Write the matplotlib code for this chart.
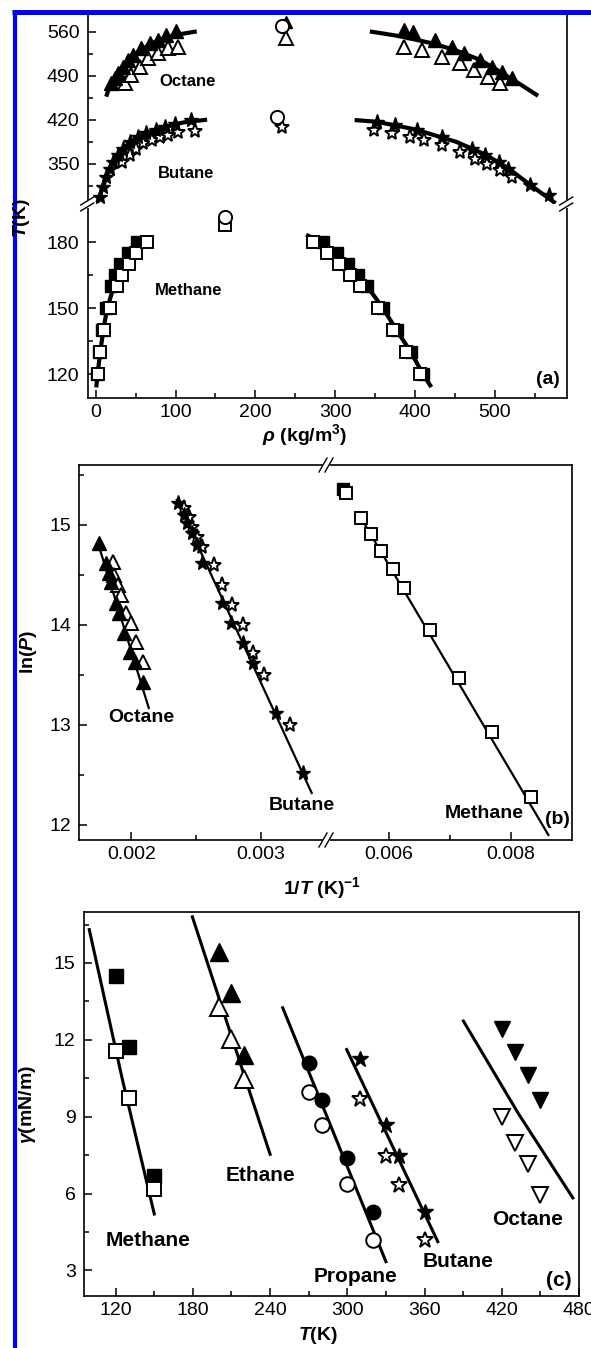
import matplotlib
matplotlib.use("Agg")
import matplotlib.pyplot as plt
from matplotlib.lines import Line2D
from matplotlib.ticker import FixedLocator, FormatStrFormatter

plt.rcParams['font.family'] = ['Liberation Sans', 'DejaVu Sans']
plt.rcParams['mathtext.fontset'] = 'custom'
plt.rcParams['mathtext.rm'] = 'Liberation Sans:bold'
plt.rcParams['mathtext.it'] = 'Liberation Sans:bold:italic'
plt.rcParams['mathtext.bf'] = 'Liberation Sans:bold'

W, H = 591, 1348

# ---------------- (a) coexistence curves: rho (kg/m3) vs T (K) ----------------
oct_vap_fill_rho = [19.7, 23.8, 28, 34, 40.5, 46.8, 57, 67.8, 78, 88.7, 101]
oct_vap_fill_T = [478, 486, 494, 504, 515, 523, 533.6, 541.5, 547, 555, 561]
oct_vap_open_rho = [36.4, 44.8, 55, 65.6, 78, 90.7, 103]
oct_vap_open_T = [478, 491, 504, 517.6, 525.6, 533.6, 536]
oct_liq_fill_rho = [385.6, 398, 425, 446, 461, 482, 496.5, 509, 521.6]
oct_liq_fill_T = [562.7, 559, 546.8, 536, 525.6, 515, 504.3, 496.4, 486.8]
oct_liq_open_rho = [385.6, 408.6, 433.7, 456.7, 473.4, 492, 507]
oct_liq_open_T = [536, 531, 520, 509.7, 499, 488.4, 478]
oct_vap_line_rho = [14, 19, 27, 40, 56, 76, 100, 124]
oct_vap_line_T = [460, 478, 494, 514, 531, 545, 555, 560]
oct_liq_line_rho = [346, 381, 420, 450, 482, 507, 530, 552]
oct_liq_line_T = [560, 553, 542, 531, 515, 496, 478, 460]

but_vap_fill_rho = [5, 9.2, 13.4, 17.6, 21.7, 28, 34.4, 42.7, 53, 63.6, 76, 86.6, 99, 120]
but_vap_fill_T = [297.5, 313.4, 329.3, 342.7, 353, 364, 374.5, 385, 393, 398.4, 403.6, 408.9, 414, 419.5]
but_vap_open_rho = [32.4, 42.7, 51, 59.4, 70, 80, 90.7, 103, 124]
but_vap_open_T = [353, 364, 374.5, 382.5, 387.7, 393, 395.6, 401, 403]
but_liq_fill_rho = [352, 375, 402, 434, 471, 488, 505, 517, 544.5, 567.5]
but_liq_fill_T = [416.8, 411.6, 403.6, 393, 374.5, 364, 353, 342.7, 316, 300]
but_liq_open_rho = [348, 371, 394, 410.7, 433.7, 456.7, 475.5, 490, 507, 521.6]
but_liq_open_T = [403.6, 398.4, 393, 387.7, 380, 369, 358.6, 350.6, 340, 329.3]
but_vap_line_rho = [3, 9, 17, 28, 43, 63, 87, 110, 137]
but_vap_line_T = [292, 313, 342, 364, 385, 399, 409, 416, 420]
but_liq_line_rho = [327, 352, 400, 452, 488, 517, 545, 574]
but_liq_line_T = [419.5, 417, 405, 385, 365, 343, 316, 289.5]

met_T = [120, 130, 140, 150, 160, 165, 170, 175, 180]
met_vap_open = [3, 5.9, 10.5, 17.6, 26.8, 33.5, 41.4, 51, 64.4]
met_vap_fill = [2, 4, 8, 13, 19.7, 24, 31, 40.5, 52]
met_liq_open = [405.7, 389, 371.8, 354, 331, 318, 305, 290, 272]
met_liq_fill = [410, 395, 377, 360, 340, 328, 316, 302, 285]
met_vap_line_rho = [1, 3, 6, 10, 14.4, 22.8, 30, 38.5, 55, 68]
met_vap_line_T = [115, 122, 131, 141, 150, 160, 168, 175, 180.3, 182]
met_liq_line_rho = [266, 284, 302, 316, 328, 340, 360, 377, 395, 410, 419]
met_liq_line_T = [183, 180, 175, 170, 165, 160, 150, 140, 130, 120, 115]

crit_circ_rho = [233, 227, 162]
crit_circ_T = [569.5, 425, 191.6]
crit_oct_fill = (238, 575)
crit_oct_open = (239, 549.5)
crit_but_open = (233, 409)
crit_met_open = (162, 188)

# ---------------- (b) ln(P) vs 1/T ----------------
oct_b_fill_x = [0.001753, 0.001805, 0.001831, 0.001844, 0.001883, 0.001909, 0.001948, 0.001987, 0.002026, 0.002091]
oct_b_fill_y = [14.82, 14.62, 14.52, 14.43, 14.22, 14.12, 13.92, 13.73, 13.63, 13.43]
oct_b_open_x = [0.001857, 0.00187, 0.001896, 0.001922, 0.001961, 0.002, 0.002039, 0.002091]
oct_b_open_y = [14.63, 14.5, 14.4, 14.3, 14.12, 14.02, 13.83, 13.63]
oct_b_line_x = [0.001753, 0.002135]
oct_b_line_y = [14.78, 13.17]

but_b_fill_x = [0.002364, 0.002403, 0.002429, 0.002468, 0.002507, 0.002546, 0.002702, 0.002766, 0.002857, 0.002935, 0.003117, 0.003325]
but_b_fill_y = [15.22, 15.1, 15.02, 14.92, 14.8, 14.62, 14.22, 14.02, 13.82, 13.62, 13.12, 12.52]
but_b_open_x = [0.002403, 0.002442, 0.002468, 0.002507, 0.002546, 0.002637, 0.002702, 0.002779, 0.002857, 0.002935, 0.003026, 0.003221]
but_b_open_y = [15.17, 15.08, 14.98, 14.88, 14.78, 14.6, 14.4, 14.2, 14.0, 13.72, 13.5, 13.0]
but_b_line_x = [0.002351, 0.00339]
but_b_line_y = [15.25, 12.32]

met_b_fill_x = [0.005248]
met_b_fill_y = [15.36]
met_b_open_x = [0.005303, 0.005549, 0.005714, 0.005878, 0.006071, 0.006252, 0.006674, 0.00714, 0.007678, 0.008319]
met_b_open_y = [15.32, 15.07, 14.91, 14.74, 14.56, 14.37, 13.95, 13.47, 12.93, 12.28]
met_b_line_x = [0.005495, 0.008609]
met_b_line_y = [15.12, 11.9]

# ---------------- (c) surface tension vs T ----------------
met_c_fill_T = [120, 130, 150]
met_c_fill = [14.5, 11.7, 6.67]
met_c_open_T = [120, 130, 150]
met_c_open = [11.56, 9.74, 6.18]
met_c_line_T = [99.5, 125, 150]
met_c_line = [16.3, 10.5, 5.2]

eth_c_T = [200, 210, 220]
eth_c_fill = [15.41, 13.82, 11.39]
eth_c_open = [13.27, 12.04, 10.48]
eth_c_line_T = [179.6, 240]
eth_c_line = [16.8, 7.53]

pro_c_T = [270, 280, 300, 320]
pro_c_fill = [11.09, 9.66, 7.4, 5.28]
pro_c_open = [9.96, 8.69, 6.36, 4.18]
pro_c_line_T = [249.8, 330]
pro_c_line = [13.25, 3.34]

but_c_T = [310, 330, 340, 360]
but_c_fill = [11.26, 8.66, 7.45, 5.28]
but_c_open = [9.67, 7.45, 6.32, 4.18]
but_c_line_T = [299.5, 370.3]
but_c_line = [11.62, 4.12]

oct_c_T = [420, 430, 440, 450]
oct_c_fill = [12.43, 11.52, 10.61, 9.66]
oct_c_open = [8.99, 7.97, 7.17, 5.93]
oct_c_line_T = [390.2, 432.9, 475.2]
oct_c_line = [12.73, 9.12, 5.83]


fig = plt.figure(figsize=(W / 100, H / 100), dpi=100)


def rect(x0, y0, x1, y1):
    return [x0 / W, 1 - y1 / H, (x1 - x0) / W, (y1 - y0) / H]


def fig_line(xs, ys, **kw):
    fig.add_artist(Line2D([x / W for x in xs], [1 - y / H for y in ys],
                          transform=fig.transFigure, **kw))


def style(ax):
    for s in ax.spines.values():
        s.set_linewidth(1.2)
    ax.tick_params(which='both', direction='in', top=False, right=False,
                   width=1.1, labelsize=14)
    ax.tick_params(which='major', length=6)
    ax.tick_params(which='minor', length=3.5)
    ax.tick_params(axis='y', pad=6)
    ax.tick_params(axis='x', pad=4)


def openm(ax, x, y, m, ms, **kw):
    ax.plot(x, y, ls='none', marker=m, ms=ms, mfc='white', mec='black', mew=1.4, **kw)


def fillm(ax, x, y, m, ms, **kw):
    ax.plot(x, y, ls='none', marker=m, ms=ms, mfc='black', mec='black', mew=1.0, **kw)


# ---------------- panel (a) ----------------
ax_up = fig.add_axes(rect(87.7, 14, 566.7, 204))
ax_lo = fig.add_axes(rect(87.7, 204, 566.7, 398.3))
for ax in (ax_up, ax_lo):
    style(ax)
    ax.set_xlim(-10, 590)
    ax.xaxis.set_major_locator(FixedLocator([0, 100, 200, 300, 400, 500]))
    ax.xaxis.set_minor_locator(FixedLocator([50, 150, 250, 350, 450, 550]))
ax_up.set_ylim(286.4, 588.2)
ax_lo.set_ylim(109.1, 197.4)
ax_up.spines['bottom'].set_visible(False)
ax_lo.spines['top'].set_visible(False)
ax_up.tick_params(axis='x', which='both', bottom=False, labelbottom=False)
ax_up.yaxis.set_major_locator(FixedLocator([350, 420, 490, 560]))
ax_up.yaxis.set_minor_locator(FixedLocator([315, 385, 455, 525]))
ax_lo.yaxis.set_major_locator(FixedLocator([120, 150, 180]))
ax_lo.yaxis.set_minor_locator(FixedLocator([135, 165]))

for ax in (ax_up, ax_lo):
    lw_a = 3.0
    ax.plot(oct_vap_line_rho, oct_vap_line_T, color='black', lw=lw_a)
    ax.plot(oct_liq_line_rho, oct_liq_line_T, color='black', lw=lw_a)
    ax.plot(but_vap_line_rho, but_vap_line_T, color='black', lw=lw_a)
    ax.plot(but_liq_line_rho, but_liq_line_T, color='black', lw=lw_a)
    ax.plot(met_vap_line_rho, met_vap_line_T, color='black', lw=lw_a)
    ax.plot(met_liq_line_rho, met_liq_line_T, color='black', lw=lw_a)

    openm(ax, oct_vap_open_rho, oct_vap_open_T, '^', 10.5)
    openm(ax, oct_liq_open_rho, oct_liq_open_T, '^', 10.5)
    fillm(ax, oct_vap_fill_rho, oct_vap_fill_T, '^', 10.5)
    fillm(ax, oct_liq_fill_rho, oct_liq_fill_T, '^', 10.5)

    openm(ax, but_vap_open_rho, but_vap_open_T, '*', 11)
    openm(ax, but_liq_open_rho, but_liq_open_T, '*', 11)
    fillm(ax, but_vap_fill_rho, but_vap_fill_T, '*', 11)
    fillm(ax, but_liq_fill_rho, but_liq_fill_T, '*', 11)

    fillm(ax, met_vap_fill, met_T, 's', 9)
    fillm(ax, met_liq_fill, met_T, 's', 9)
    openm(ax, met_vap_open, met_T, 's', 9)
    openm(ax, met_liq_open, met_T, 's', 9)

    fillm(ax, [crit_oct_fill[0]], [crit_oct_fill[1]], '^', 8)
    openm(ax, [crit_oct_open[0]], [crit_oct_open[1]], '^', 10.5)
    openm(ax, [crit_but_open[0]], [crit_but_open[1]], '*', 11)
    openm(ax, [crit_met_open[0]], [crit_met_open[1]], 's', 9)
    openm(ax, crit_circ_rho, crit_circ_T, 'o', 9.5)

ax_up.text(114.6, 481.6, 'Octane', fontsize=12, fontweight='bold', ha='center', va='center')
ax_up.text(113, 334.7, 'Butane', fontsize=12, fontweight='bold', ha='center', va='center')
ax_lo.text(115.8, 158, 'Methane', fontsize=12, fontweight='bold', ha='center', va='center')
ax_lo.text(567, 117.5, '(a)', fontsize=14, fontweight='bold', ha='center', va='center')

fig.text(22 / W, 1 - 218 / H, r'$T$(K)', rotation=90, fontsize=14,
         fontweight='bold', ha='center', va='center')
fig.text(305 / W, 1 - 435 / H, r'$\rho$ (kg/m$^3$)', fontsize=14,
         fontweight='bold', ha='center', va='center')

# ---------------- panel (b) ----------------
ax_bl = fig.add_axes(rect(79.3, 465, 326, 840))
ax_br = fig.add_axes(rect(326, 465, 572.3, 840))
for ax in (ax_bl, ax_br):
    style(ax)
    ax.patch.set_visible(False)
    ax.set_ylim(11.85, 15.6)
    ax.xaxis.set_major_formatter(FormatStrFormatter('%.3f'))
ax_bl.set_xlim(0.0016, 0.0035)
ax_br.set_xlim(0.00497, 0.009)
ax_bl.xaxis.set_major_locator(FixedLocator([0.002, 0.003]))
ax_bl.xaxis.set_minor_locator(FixedLocator([0.0025]))
ax_br.xaxis.set_major_locator(FixedLocator([0.006, 0.008]))
ax_br.xaxis.set_minor_locator(FixedLocator([0.007]))
ax_bl.yaxis.set_major_locator(FixedLocator([12, 13, 14, 15]))
ax_bl.yaxis.set_minor_locator(FixedLocator([12.5, 13.5, 14.5, 15.5]))
ax_bl.spines['right'].set_visible(False)
ax_br.spines['left'].set_visible(False)
ax_br.tick_params(axis='y', which='both', left=False, labelleft=False)

ax_bl.plot(oct_b_line_x, oct_b_line_y, color='black', lw=1.6)
ax_bl.plot(but_b_line_x, but_b_line_y, color='black', lw=1.6)
ax_br.plot(met_b_line_x, met_b_line_y, color='black', lw=1.6)
openm(ax_bl, oct_b_open_x, oct_b_open_y, '^', 10.5)
fillm(ax_bl, oct_b_fill_x, oct_b_fill_y, '^', 10.5)
openm(ax_bl, but_b_open_x, but_b_open_y, '*', 11)
fillm(ax_bl, but_b_fill_x, but_b_fill_y, '*', 11)
fillm(ax_br, met_b_fill_x, met_b_fill_y, 's', 9)
openm(ax_br, met_b_open_x, met_b_open_y, 's', 9)

ax_bl.text(0.002078, 13.07, 'Octane', fontsize=14, fontweight='bold', ha='center', va='center')
ax_bl.text(0.00331, 12.19, 'Butane', fontsize=14, fontweight='bold', ha='center', va='center')
ax_br.text(0.007567, 12.12, 'Methane', fontsize=14, fontweight='bold', ha='center', va='center')
ax_br.text(0.008757, 12.05, '(b)', fontsize=14, fontweight='bold', ha='center', va='center')

fig.text(29 / W, 1 - 652 / H, r'ln($P$)', rotation=90, fontsize=14,
         fontweight='bold', ha='center', va='center')
fig.text(322 / W, 1 - 888 / H, r'1/$T$ (K)$^{-1}$', fontsize=14,
         fontweight='bold', ha='center', va='center')

# ---------------- panel (c) ----------------
ax_c = fig.add_axes(rect(84, 911.7, 579, 1296))
style(ax_c)
ax_c.set_xlim(95.4, 480)
ax_c.set_ylim(2, 17)
ax_c.xaxis.set_major_locator(FixedLocator([120, 180, 240, 300, 360, 420, 480]))
ax_c.xaxis.set_minor_locator(FixedLocator([150, 210, 270, 330, 390, 450]))
ax_c.yaxis.set_major_locator(FixedLocator([3, 6, 9, 12, 15]))
ax_c.yaxis.set_minor_locator(FixedLocator([4.5, 7.5, 10.5, 13.5, 16.5]))

for lx, ly in [(met_c_line_T, met_c_line), (eth_c_line_T, eth_c_line),
               (pro_c_line_T, pro_c_line), (but_c_line_T, but_c_line),
               (oct_c_line_T, oct_c_line)]:
    ax_c.plot(lx, ly, color='black', lw=2.2)

fillm(ax_c, met_c_fill_T, met_c_fill, 's', 10)
openm(ax_c, met_c_open_T, met_c_open, 's', 10)
fillm(ax_c, eth_c_T, eth_c_fill, '^', 13)
openm(ax_c, eth_c_T, eth_c_open, '^', 13)
fillm(ax_c, pro_c_T, pro_c_fill, 'o', 10.5)
openm(ax_c, pro_c_T, pro_c_open, 'o', 10.5)
fillm(ax_c, but_c_T, but_c_fill, '*', 12)
openm(ax_c, but_c_T, but_c_open, '*', 12)
fillm(ax_c, oct_c_T, oct_c_fill, 'v', 11.5)
openm(ax_c, oct_c_T, oct_c_open, 'v', 11.5)

for txt, tx, ty in [('Methane', 145.3, 4.18), ('Ethane', 232.2, 6.71),
                    ('Propane', 306.7, 2.75), ('Butane', 386.3, 3.34),
                    ('Octane', 439.9, 4.99), ('(c)', 464, 2.62)]:
    ax_c.text(tx, ty, txt, fontsize=15, fontweight='bold', ha='center', va='center')

fig.text(28 / W, 1 - 1104 / H, r'$\gamma$(mN/m)', rotation=90, fontsize=14,
         fontweight='bold', ha='center', va='center')
fig.text(318 / W, 1 - 1335 / H, r'$T$(K)', fontsize=14,
         fontweight='bold', ha='center', va='center')

# ---------------- axis break marks ----------------
for cx in (87.7, 566.7):
    fig_line([cx, cx], [200, 208], color='white', lw=3, solid_capstyle='butt')
    for d in (-3, 3):
        fig_line([cx - 7, cx + 6], [204 + d + 4, 204 + d - 4], color='black', lw=1.0)
for cy in (465, 840):
    fig_line([322.5, 329.5], [cy, cy], color='white', lw=3, solid_capstyle='butt')
    for d in (-3, 3):
        fig_line([326 + d - 4, 326 + d + 4], [cy + 7, cy - 7], color='black', lw=1.0)

# blue frame lines
fig_line([12, 591], [11.5, 11.5], color='#0000ff', lw=3.6, solid_capstyle='butt')
fig_line([14.7, 14.7], [9.5, 1348], color='#0000ff', lw=3.0, solid_capstyle='butt')

fig.savefig('out.png', dpi=100)
